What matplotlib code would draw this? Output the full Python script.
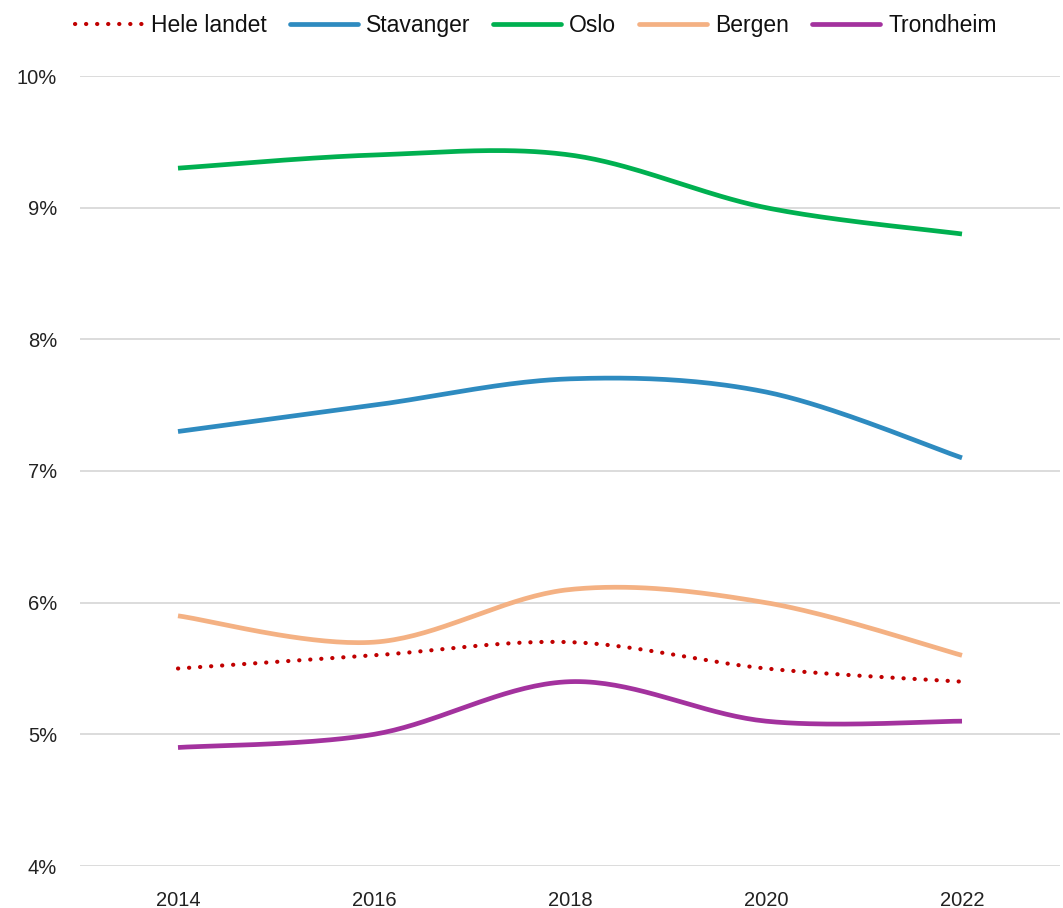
import numpy as np
import matplotlib
matplotlib.use("Agg")
import matplotlib.pyplot as plt
from matplotlib.lines import Line2D
from matplotlib.ticker import FuncFormatter

years = ["2014", "2016", "2018", "2020", "2022"]
hele_landet = [5.5, 5.6, 5.7, 5.5, 5.4]
stavanger = [7.3, 7.5, 7.7, 7.6, 7.1]
oslo = [9.3, 9.4, 9.4, 9.0, 8.8]
bergen = [5.9, 5.7, 6.1, 6.0, 5.6]
trondheim = [4.9, 5.0, 5.4, 5.1, 5.1]

series = [
    ("Hele landet", hele_landet, "#C00000", "dot"),
    ("Stavanger", stavanger, "#2E8BC0", "solid"),
    ("Oslo", oslo, "#00B050", "solid"),
    ("Bergen", bergen, "#F4B183", "solid"),
    ("Trondheim", trondheim, "#A3329E", "solid"),
]


def smooth(xs, ys, n=40):
    xs = np.asarray(xs, float)
    ys = np.asarray(ys, float)
    P = np.column_stack([xs, ys])
    out = [P[0]]
    m = len(P)
    for i in range(m - 1):
        p0 = P[i - 1] if i > 0 else P[i]
        p1 = P[i]
        p2 = P[i + 1]
        p3 = P[i + 2] if i + 2 < m else P[i + 1]
        c1 = p1 + (p2 - p0) / 6.0
        c2 = p2 - (p3 - p1) / 6.0
        t = np.linspace(0, 1, n)[1:, None]
        pts = ((1 - t) ** 3) * p1 + 3 * ((1 - t) ** 2) * t * c1 + 3 * (1 - t) * t ** 2 * c2 + t ** 3 * p2
        out.extend(pts)
    out = np.array(out)
    return out[:, 0], out[:, 1]


plt.rcParams["font.family"] = ["Liberation Sans", "DejaVu Sans"]
W, H = 1063, 908
fig = plt.figure(figsize=(W / 100, H / 100), dpi=100)
ax = fig.add_axes([80 / W, 1 - 866 / H, 980 / W, (866 - 76) / H])

x = np.arange(len(years))
styles = {}
for name, vals, color, style in series:
    sx, sy = smooth(x, vals)
    if style == "dot":
        kw = dict(color=color, lw=3.0, linestyle=(0, (0.05, 2.6)), dash_capstyle="round")
    else:
        kw = dict(color=color, lw=3.4, solid_capstyle="butt")
    styles[name] = kw
    ax.plot(sx, sy, zorder=3, label=name, **kw)

ax.set_xlim(-0.5, len(years) - 0.5)
ax.set_ylim(4, 10)
ax.set_yticks(np.arange(4, 10.5, 1))
ax.yaxis.set_major_formatter(FuncFormatter(lambda v, p: f"{v:.0f}%"))
ax.set_xticks(x)
ax.set_xticklabels(years)
ax.grid(axis="y", color="#D9D9D9", lw=1.3)
ax.set_axisbelow(True)
for s in ax.spines.values():
    s.set_visible(False)
ax.tick_params(axis="both", length=0, labelsize=14.5, colors="#222222")
ax.tick_params(axis="y", pad=16.5)
ax.tick_params(axis="x", pad=18)

# legend row drawn on a common (whole-pixel) baseline
renderer = fig.canvas.get_renderer()
cur = 75.0          # px from left
handle_len = 68.0
text_gap = 8.0
col_gap = 23.0
base_y = (H - 32.0) / H
line_y = 1 - 23.5 / H
for name, vals, color, style in series:
    kw = dict(styles[name])
    if style != "dot":
        kw["solid_capstyle"] = "round"
    fig.add_artist(Line2D([cur / W, (cur + handle_len) / W], [line_y, line_y],
                          transform=fig.transFigure, **kw))
    cur += handle_len + text_gap
    t = fig.text(round(cur) / W, base_y, name, fontsize=16.5, color="#111111",
                 ha="left", va="baseline")
    w = t.get_window_extent(renderer=renderer).width
    cur += w + col_gap

fig.savefig("out.png", dpi=100)
